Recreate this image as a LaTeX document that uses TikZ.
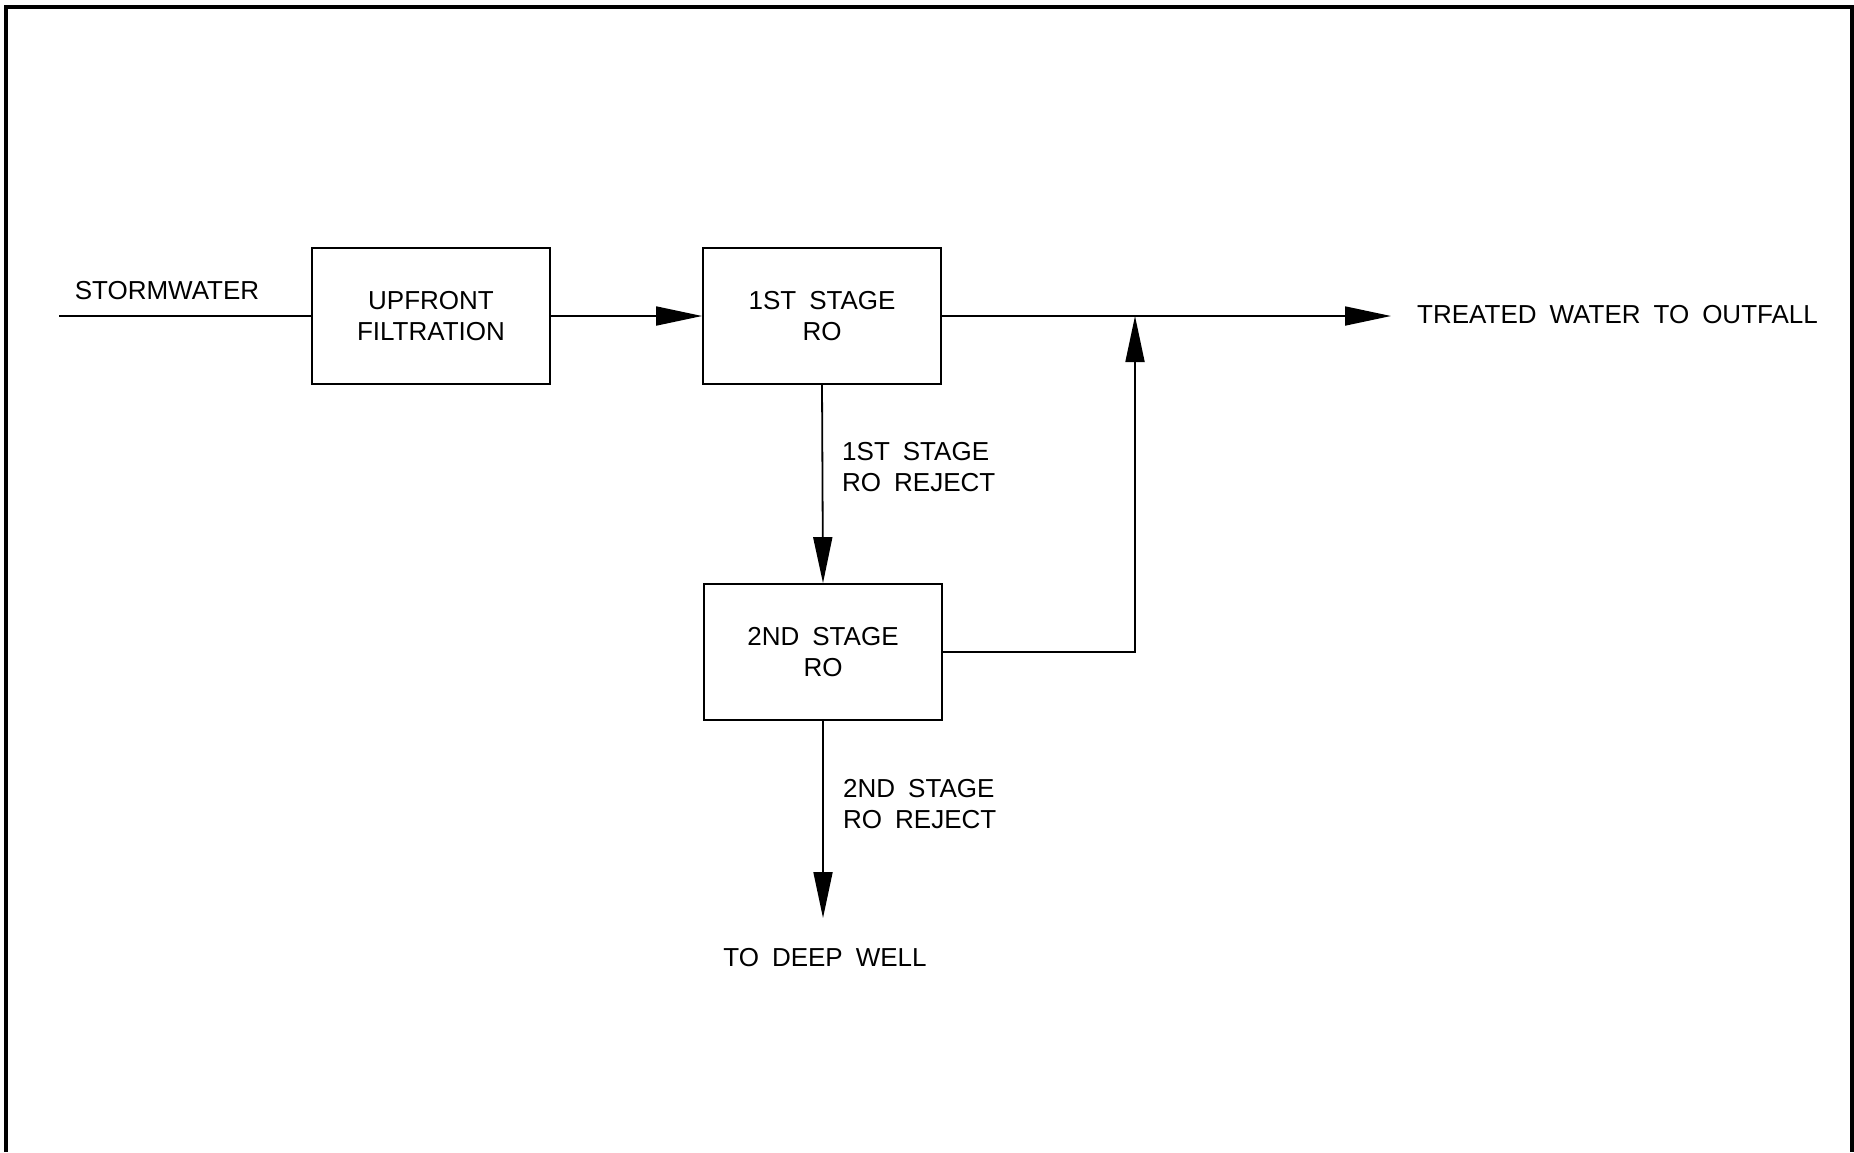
\documentclass[tikz,border=0pt]{standalone}
\usepackage{fontspec}
\setmainfont{Liberation Sans}[WordSpace=1.8]
\usetikzlibrary{arrows.meta}
\tikzset{
  unit/.style={draw, line width=1.8pt, minimum width=238pt, minimum height=136pt, inner sep=0pt, align=center},
  flow/.style={line width=1.8pt},
  tip/.style={-{Triangle[length=46pt,width=19pt]}},
  lbl/.style={inner sep=0pt, align=left},
}
\begin{document}
\begin{tikzpicture}[x=1pt,y=-1pt,font=\fontsize{26}{31}\selectfont]
\useasboundingbox (0,0) rectangle (1854,1152);
% frame (open at the bottom of the picture)
\draw[line width=4pt] (6,1152) -- (6,6.5) -- (1852,6.5) -- (1852,1152);

\node[unit] (up) at (431,316) {UPFRONT\\FILTRATION};
\node[unit] (s1) at (822,316) {1ST STAGE\\RO};
\node[unit] (s2) at (823,652) {2ND STAGE\\RO};

\coordinate (sw) at (59,316);
\coordinate (out) at (1391,316);
\coordinate (j) at (1135,316);
\coordinate (well) at (823,918);

\node[lbl] (storm) at (167,291) {STORMWATER};
\node[lbl, anchor=west] (treated) at (1417,315) {TREATED WATER TO OUTFALL};
\node[lbl, anchor=west] (rej1) at (842,467) {1ST STAGE\\RO REJECT};
\node[lbl, anchor=west] (rej2) at (843,804) {2ND STAGE\\RO REJECT};
\node[lbl] (deep) at (825,958) {TO DEEP WELL};

\draw[flow] (sw) -- (up.west);
\draw[flow,tip] (up.east) -- (s1.west);
\draw[flow,tip] (s1.east) -- (out);
\draw[flow,tip] (s1.south) -- (s2.north);
\draw[flow,tip] (s2.east) -| (j);
\draw[flow,tip] (s2.south) -- (well);
\end{tikzpicture}
\end{document}
